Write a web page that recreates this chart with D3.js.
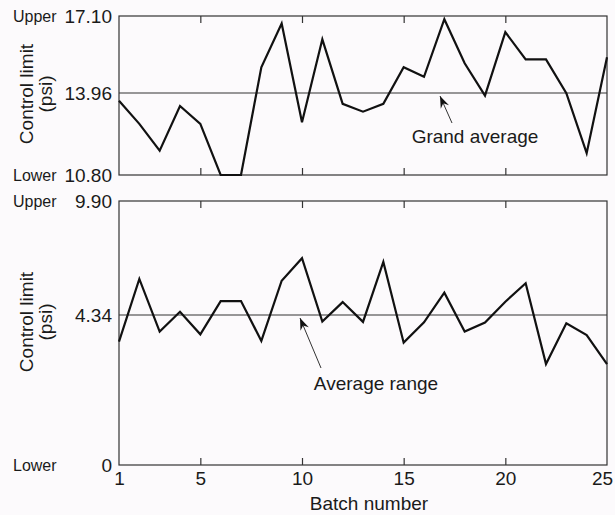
<!DOCTYPE html>
<html><head><meta charset="utf-8">
<script src="https://cdn.jsdelivr.net/npm/d3@7"></script>
<style>
html,body{margin:0;padding:0;background:#fcfafc;}
svg{display:block;font-family:"Liberation Sans",Arial,Helvetica,sans-serif;}
</style></head>
<body>
<svg id="chart" width="615" height="515"></svg>
<script>
// ---- data ----
const batches = [1,2,3,4,5,6,7,8,9,10,11,12,13,14,15,16,17,18,19,20,21,22,23,24,25];
const averageValues = [13.66,12.77,11.74,13.46,12.77,10.80,10.80,15.01,16.79,12.83,16.15,13.54,13.24,13.54,15.01,14.62,16.97,15.17,13.86,16.44,15.33,15.33,13.95,11.64,15.42];
const rangeValues = [3.57,6.10,3.86,4.50,3.78,5.02,5.02,3.59,6.01,7.11,4.15,4.97,4.14,6.93,3.54,4.13,5.43,3.86,4.12,4.99,5.89,2.92,4.10,3.76,2.92];
const averageTicks = [10.80, 13.96, 17.10];
const rangeTicks = [0, 4.34, 9.90];
const averageTickLabels = ["10.80", "13.96", "17.10"];
const rangeTickLabels = ["0", "4.34", "9.90"];
const limitLabels = ["Lower", "Upper"];
const xTicks = [1, 5, 10, 15, 20, 25];
const innerTicks = [5, 10, 15, 20];
const grandAverage = 13.96;
const averageRange = 4.34;

const svg = d3.select("#chart");
const ink = "#1a1a1a";

const x = d3.scaleLinear().domain([1, 25]).range([119, 607]);

const panels = [
  {values: averageValues, ticks: averageTicks, labels: averageTickLabels, center: grandAverage,
   y: d3.scaleLinear().domain([10.80, 13.96, 17.10]).range([175, 93, 16]),
   note: "Grand average", noteX: 475, noteY: 143, arrowFrom: [452, 123], arrowTo: [440, 96]},
  {values: rangeValues, ticks: rangeTicks, labels: rangeTickLabels, center: averageRange,
   y: d3.scaleLinear().domain([0, 4.34, 9.90]).range([465, 315, 201]),
   note: "Average range", noteX: 376, noteY: 390, arrowFrom: [321, 368], arrowTo: [300, 318]}
];

panels.forEach((p, i) => {
  const g = svg.append("g");
  const y = p.y;
  const [y0, y1] = [y(p.ticks[0]), y(p.ticks[2])];

  // frame
  g.append("rect").attr("x", x(1)).attr("y", y1)
    .attr("width", x(25) - x(1)).attr("height", y0 - y1)
    .attr("fill", "none").attr("stroke", "#333").attr("stroke-width", 1.2);

  // top inner ticks
  g.append("g").attr("transform", `translate(0,${y1})`)
    .call(d3.axisTop(x).tickValues(innerTicks).tickSize(-7).tickFormat(""))
    .call(a => a.select(".domain").remove())
    .call(a => a.selectAll("line").attr("stroke", "#333").attr("stroke-width", 1.2));

  // bottom inner ticks (+labels on the lower panel)
  const bottom = g.append("g").attr("transform", `translate(0,${y0})`)
    .call(d3.axisBottom(x).tickValues(i === 1 ? xTicks : innerTicks).tickSizeInner(-7).tickSizeOuter(0)
      .tickPadding(7).tickFormat(i === 1 ? d3.format("d") : ""))
    .call(a => a.select(".domain").remove())
    .call(a => a.selectAll("line").attr("stroke", "#333").attr("stroke-width", 1.2)
      .attr("opacity", d => (d === 1 || d === 25) ? 0 : 1));
  bottom.selectAll("text").attr("font-size", 19).attr("fill", ink)
    .attr("font-family", "Liberation Sans, Arial, sans-serif")
    .attr("dx", d => d === 25 ? -5 : 0);

  // left axis labels
  const la = g.append("g").attr("transform", `translate(${x(1)},0)`)
    .call(d3.axisLeft(y).tickValues(p.ticks).tickSize(0).tickPadding(7)
      .tickFormat((d, k) => p.labels[k]));
  la.select(".domain").remove();
  la.selectAll("text").attr("font-size", 19).attr("fill", ink)
    .attr("font-family", "Liberation Sans, Arial, sans-serif");

  // Upper / Lower
  g.append("text").attr("x", 13).attr("y", y1).attr("dy", "0.35em")
    .attr("font-size", 16).attr("fill", ink).text(limitLabels[1]);
  g.append("text").attr("x", 13).attr("y", y0).attr("dy", "0.35em")
    .attr("font-size", 16).attr("fill", ink).text(limitLabels[0]);

  // y title
  const cy = i === 0 ? 94 : 322;
  const t = g.append("text").attr("transform", `translate(33,${cy}) rotate(-90)`)
    .attr("text-anchor", "middle").attr("font-size", 19).attr("fill", ink);
  t.append("tspan").attr("x", 0).attr("dy", 0).text("Control limit");
  t.append("tspan").attr("x", 0).attr("dy", 19).text("(psi)");

  // centre line
  g.append("line").attr("x1", x(1)).attr("x2", x(25))
    .attr("y1", y(p.center)).attr("y2", y(p.center))
    .attr("stroke", "#333").attr("stroke-width", 1.1);

  // data line
  g.append("path").datum(p.values)
    .attr("fill", "none").attr("stroke", "#111").attr("stroke-width", 2.2)
    .attr("stroke-linejoin", "miter")
    .attr("d", d3.line().x((d, k) => x(batches[k])).y(d => y(d)));

  // annotation
  g.append("text").attr("x", p.noteX).attr("y", p.noteY).attr("text-anchor", "middle")
    .attr("font-size", 19).attr("fill", ink).text(p.note);
  const [fx, fy] = p.arrowFrom, [tx, ty] = p.arrowTo;
  g.append("line").attr("x1", fx).attr("y1", fy).attr("x2", tx).attr("y2", ty)
    .attr("stroke", "#333").attr("stroke-width", 1);
  const ang = Math.atan2(ty - fy, tx - fx);
  const L = 12, W = 4.5;
  const bx = tx - L * Math.cos(ang), by = ty - L * Math.sin(ang);
  const nx = -Math.sin(ang), ny = Math.cos(ang);
  g.append("path")
    .attr("d", `M${tx},${ty}L${bx + W * nx},${by + W * ny}L${tx - 8 * Math.cos(ang)},${ty - 8 * Math.sin(ang)}L${bx - W * nx},${by - W * ny}Z`)
    .attr("fill", "#111");
});

svg.append("text").attr("x", (x(1) + x(25)) / 2 + 6).attr("y", 510)
  .attr("text-anchor", "middle").attr("font-size", 19).attr("fill", ink).text("Batch number");
</script>
</body></html>
